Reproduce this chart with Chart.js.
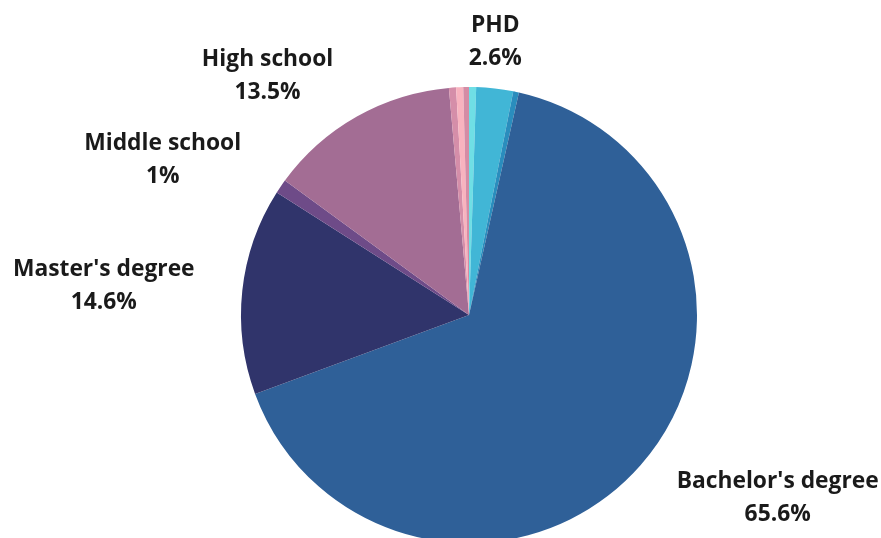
<!DOCTYPE html>
<html>
<head>
<meta charset="utf-8">
<script src="https://cdn.jsdelivr.net/npm/chart.js@4"></script>
<style>
  html, body { margin: 0; padding: 0; background: #ffffff; overflow: hidden; width: 881px; height: 538px; }
  #wrap { position: absolute; left: 0; top: 0; width: 881px; height: 630px; }
</style>
</head>
<body>
<div id="wrap"><canvas id="c" width="881" height="630"></canvas></div>
<script>
// Categories in clockwise order from the top
const categories = ["Other A", "PHD", "Other B", "Bachelor's degree", "Master's degree", "Middle school", "High school", "Other C", "Other D", "Other E"];
// Share of respondents, percent
const shares = [0.5, 2.6, 0.4, 65.6, 14.6, 1, 13.5, 0.5, 0.5, 0.4];
const sliceColors = ["#6fdfe5", "#41b6d6", "#2a8dbd", "#2f6098", "#30346b", "#6e4b88", "#a36d94", "#d58ea9", "#f8b3bf", "#d48ca5"];

const labelPlugin = {
  id: 'outerLabels',
  afterDraw(chart) {
    const ctx = chart.ctx;
    const meta = chart.getDatasetMeta(0);
    ctx.save();
    ctx.font = 'bold 22.8px "Open Sans"';
    ctx.fillStyle = '#1a1a1a';
    ctx.textBaseline = 'middle';
    const lineH = 33;
    meta.data.forEach((arc, i) => {
      const v = shares[i];
      if (v < 1) return;
      const p = arc.getProps(['x', 'y', 'startAngle', 'endAngle', 'outerRadius'], true);
      const a = (p.startAngle + p.endAngle) / 2;
      const r = p.outerRadius + 48;
      const ax = p.x + r * Math.cos(a);
      const ay = p.y + r * Math.sin(a);
      const lines = [categories[i], v + '%'];
      const w = Math.max(...lines.map(t => ctx.measureText(t).width));
      let cx;
      const c = Math.cos(a);
      if (Math.abs(c) < 0.3) cx = ax - 5;
      else if (c > 0) cx = ax + w / 2;
      else cx = ax - w / 2;
      ctx.textAlign = 'center';
      const top = ay - lineH / 2 + 1;
      lines.forEach((t, k) => ctx.fillText(t, cx, top + k * lineH));
    });
    ctx.restore();
  }
};

new Chart(document.getElementById('c'), {
  type: 'pie',
  data: {
    labels: categories,
    datasets: [{
      data: shares,
      backgroundColor: sliceColors,
      borderWidth: 0
    }]
  },
  options: {
    responsive: false,
    animation: false,
    devicePixelRatio: 1,
    layout: { padding: { left: 57, right: 0, top: 87, bottom: 87 } },
    plugins: {
      legend: { display: false },
      tooltip: { enabled: false }
    }
  },
  plugins: [labelPlugin]
});
</script>
</body>
</html>
